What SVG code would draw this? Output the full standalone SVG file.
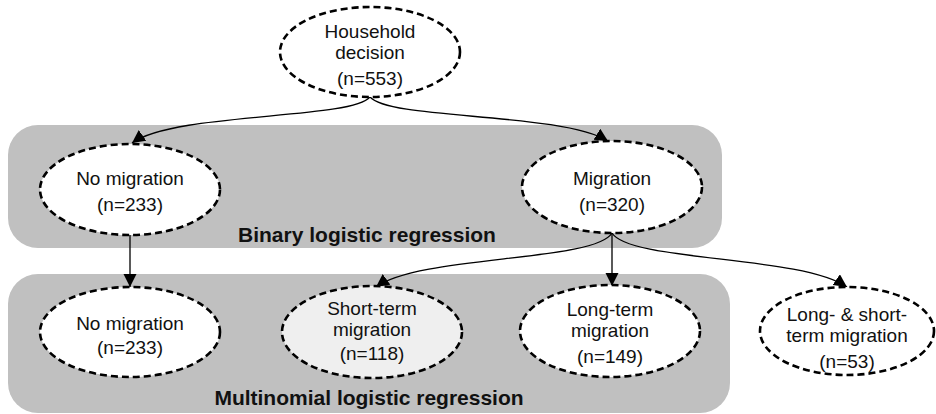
<svg xmlns="http://www.w3.org/2000/svg" width="936" height="414" viewBox="0 0 936 414">
<style>
.band{fill:#c0c0c0;}
.node ellipse{fill:#ffffff;stroke:#000;stroke-width:2.6;stroke-dasharray:7 4;}
.node.shaded ellipse{fill:#efefef;}
.node text{font-family:"Liberation Sans",Arial,sans-serif;font-size:19px;fill:#111;text-anchor:middle;}
.label{font-family:"Liberation Sans",Arial,sans-serif;font-size:21px;font-weight:bold;fill:#111;text-anchor:middle;}
#connectors path{fill:none;stroke:#000;stroke-width:1.3;marker-end:url(#arrow);}
</style>
<defs>
<marker id="arrow" markerUnits="userSpaceOnUse" markerWidth="14" markerHeight="14" refX="13" refY="6.5" orient="auto">
<path d="M0,0 L13,6.5 L0,13 z" fill="#000"/>
</marker>
</defs>
<g id="bands">
<rect class="band" x="8" y="125" width="714" height="123" rx="30"/>
<rect class="band" x="8" y="274" width="722" height="139" rx="30"/>
<text class="label" x="367" y="242">Binary logistic regression</text>
<text class="label" x="369" y="405">Multinomial logistic regression</text>
</g>
<g id="connectors">
<path d="M370,97 C350,120 175,112 132,143"/>
<path d="M370,97 C390,120 560,112 608,141"/>
<path d="M130,235 L130,287"/>
<path d="M612,233 C595,262 420,255 376,287"/>
<path d="M612,233 L612,286"/>
<path d="M612,233 C630,262 800,255 847,287"/>
</g>
<g id="household" class="node">
<ellipse cx="370" cy="52" rx="90" ry="45"/>
<text x="370" y="38">Household</text>
<text x="370" y="59">decision</text>
<text x="370" y="85">(n=553)</text>
</g>
<g id="no-migration-binary" class="node">
<ellipse cx="130" cy="189.5" rx="90" ry="45.5"/>
<text x="130" y="185">No migration</text>
<text x="130" y="211">(n=233)</text>
</g>
<g id="migration" class="node">
<ellipse cx="612" cy="187" rx="90" ry="46"/>
<text x="612" y="185">Migration</text>
<text x="612" y="211">(n=320)</text>
</g>
<g id="no-migration-multi" class="node">
<ellipse cx="130" cy="332" rx="90" ry="45"/>
<text x="130" y="330">No migration</text>
<text x="130" y="354">(n=233)</text>
</g>
<g id="short-term" class="node shaded">
<ellipse cx="372" cy="332" rx="90" ry="46"/>
<text x="372" y="315">Short-term</text>
<text x="372" y="336">migration</text>
<text x="372" y="360">(n=118)</text>
</g>
<g id="long-term" class="node">
<ellipse cx="610" cy="331" rx="90" ry="46"/>
<text x="610" y="316">Long-term</text>
<text x="610" y="337">migration</text>
<text x="610" y="363">(n=149)</text>
</g>
<g id="long-short" class="node">
<ellipse cx="847" cy="331" rx="87" ry="44"/>
<text x="847" y="321">Long- &amp; short-</text>
<text x="847" y="342">term migration</text>
<text x="847" y="368">(n=53)</text>
</g>
</svg>
